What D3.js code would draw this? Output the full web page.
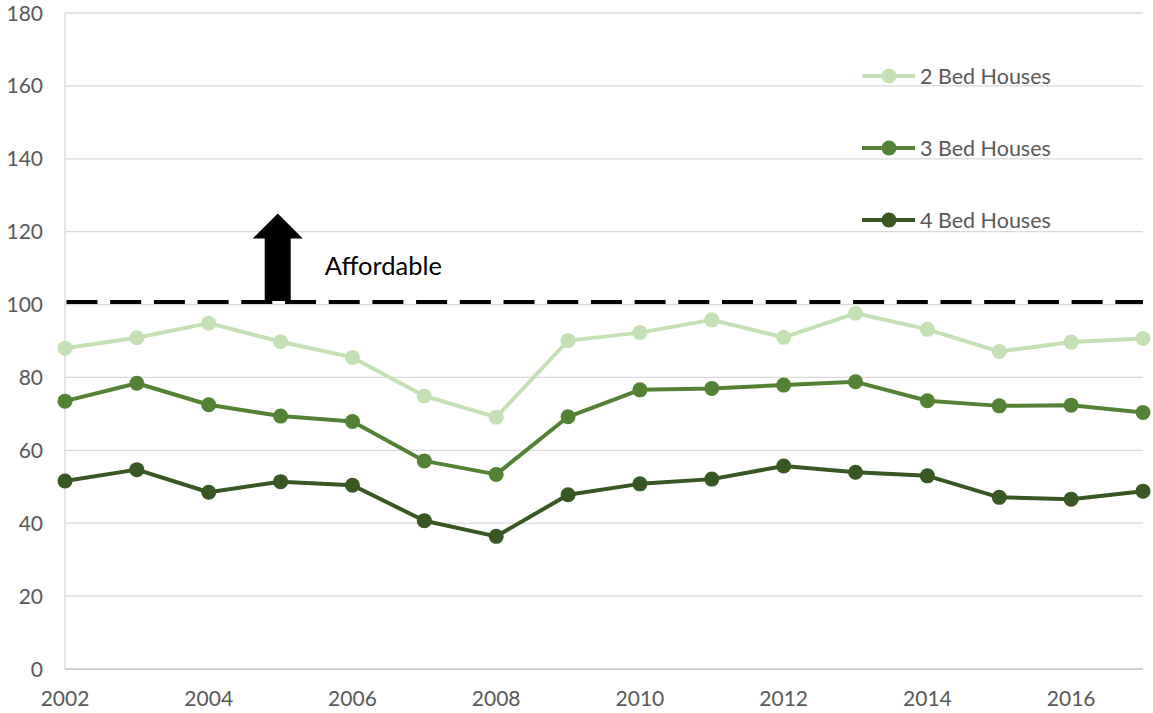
<!DOCTYPE html>
<html>
<head>
<meta charset="utf-8">
<script src="https://cdn.jsdelivr.net/npm/d3@7"></script>
<style>
  body { margin: 0; background: #fff; }
  svg { display: block; font-family: Lato, "Open Sans", sans-serif; }
</style>
</head>
<body>
<div id="chart"></div>
<script>
// data
var years = [2002, 2003, 2004, 2005, 2006, 2007, 2008, 2009, 2010, 2011, 2012, 2013, 2014, 2015, 2016, 2017];
var bed2 = [88.0, 90.9, 94.9, 89.8, 85.5, 74.9, 69.1, 90.1, 92.3, 95.8, 91.0, 97.6, 93.2, 87.1, 89.7, 90.7];
var bed3 = [73.5, 78.4, 72.5, 69.4, 67.9, 57.1, 53.4, 69.2, 76.6, 77.0, 77.9, 78.8, 73.6, 72.2, 72.4, 70.4];
var bed4 = [51.6, 54.7, 48.5, 51.4, 50.4, 40.7, 36.4, 47.8, 50.8, 52.1, 55.7, 54.0, 53.0, 47.1, 46.6, 48.8];
var seriesNames = ["2 Bed Houses", "3 Bed Houses", "4 Bed Houses"];
var seriesColors = ["#c5e0b4", "#548235", "#385723"];
var yTicks = [0, 20, 40, 60, 80, 100, 120, 140, 160, 180];
var xTicks = [2002, 2004, 2006, 2008, 2010, 2012, 2014, 2016];
var affordableLevel = 100.7;
var arrowYear = 2004.96, arrowTop = 125;
var annotationText = "Affordable";

var W = 1153, H = 713;
var svg = d3.select("#chart").append("svg").attr("width", W).attr("height", H);

var x = d3.scaleLinear().domain([2002, 2017]).range([65, 1143]);
var y = d3.scaleLinear().domain([0, 180]).range([669, 13]);

// gridlines
svg.append("g")
    .selectAll("line")
    .data(yTicks.filter(d => d > 0))
    .enter().append("line")
    .attr("x1", x(2002)).attr("x2", x(2017))
    .attr("y1", d => y(d)).attr("y2", d => y(d))
    .attr("stroke", "#d9d9d9").attr("stroke-width", 1.3);

// axis lines
svg.append("line")
    .attr("x1", x(2002)).attr("x2", x(2002))
    .attr("y1", y(180)).attr("y2", y(0))
    .attr("stroke", "#d9d9d9").attr("stroke-width", 1.3);
svg.append("line")
    .attr("x1", x(2002)).attr("x2", x(2017))
    .attr("y1", y(0)).attr("y2", y(0))
    .attr("stroke", "#bfbfbf").attr("stroke-width", 1.5);

// y tick labels
svg.append("g")
    .selectAll("text")
    .data(yTicks)
    .enter().append("text")
    .attr("x", 43)
    .attr("y", d => y(d))
    .attr("dy", "0.36em")
    .attr("text-anchor", "end")
    .attr("font-size", 21)
    .attr("fill", "#595959")
    .text(d => d);

// x tick labels
svg.append("g")
    .selectAll("text")
    .data(xTicks)
    .enter().append("text")
    .attr("x", d => x(d))
    .attr("y", 706)
    .attr("text-anchor", "middle")
    .attr("font-size", 21)
    .attr("fill", "#595959")
    .text(d => d);

// affordability threshold
svg.append("line")
    .attr("x1", x(2002)).attr("x2", x(2017))
    .attr("y1", y(affordableLevel)).attr("y2", y(affordableLevel))
    .attr("stroke", "#000").attr("stroke-width", 4)
    .attr("stroke-dasharray", "31,12.7")
    .attr("stroke-dashoffset", -1.5);

// arrow
var ax = x(arrowYear), ab = y(affordableLevel) - 1, at = y(arrowTop);
var shaftHalf = 13, headHalf = 25, headLen = 25;
svg.append("path")
    .attr("d", `M${ax - shaftHalf},${ab} L${ax - shaftHalf},${at + headLen} L${ax - headHalf},${at + headLen}
                L${ax},${at} L${ax + headHalf},${at + headLen} L${ax + shaftHalf},${at + headLen}
                L${ax + shaftHalf},${ab} Z`)
    .attr("fill", "#000");

svg.append("text")
    .attr("x", ax + 47)
    .attr("y", 275)
    .attr("font-size", 25.5)
    .attr("fill", "#000")
    .text(annotationText);

// series
var allSeries = [bed2, bed3, bed4];
var line = d3.line()
    .x((d, i) => x(years[i]))
    .y(d => y(d));

allSeries.forEach(function (vals, k) {
    var g = svg.append("g");
    g.append("path")
        .datum(vals)
        .attr("fill", "none")
        .attr("stroke", seriesColors[k])
        .attr("stroke-width", 4)
        .attr("stroke-linejoin", "round")
        .attr("d", line);
    g.selectAll("circle")
        .data(vals)
        .enter().append("circle")
        .attr("cx", (d, i) => x(years[i]))
        .attr("cy", d => y(d))
        .attr("r", 7.5)
        .attr("fill", seriesColors[k]);
});

// legend
var legend = svg.append("g")
    .selectAll("g")
    .data(seriesNames)
    .enter().append("g")
    .attr("transform", (d, i) => `translate(862,${76 + i * 72})`);

legend.append("line")
    .attr("x1", 0).attr("x2", 53)
    .attr("stroke", (d, i) => seriesColors[i])
    .attr("stroke-width", 4);
legend.append("circle")
    .attr("cx", 27).attr("r", 7.5)
    .attr("fill", (d, i) => seriesColors[i]);
legend.append("text")
    .attr("x", 58)
    .attr("dy", "0.36em")
    .attr("font-size", 21.5)
    .attr("fill", "#595959")
    .text(d => d);
</script>
</body>
</html>
